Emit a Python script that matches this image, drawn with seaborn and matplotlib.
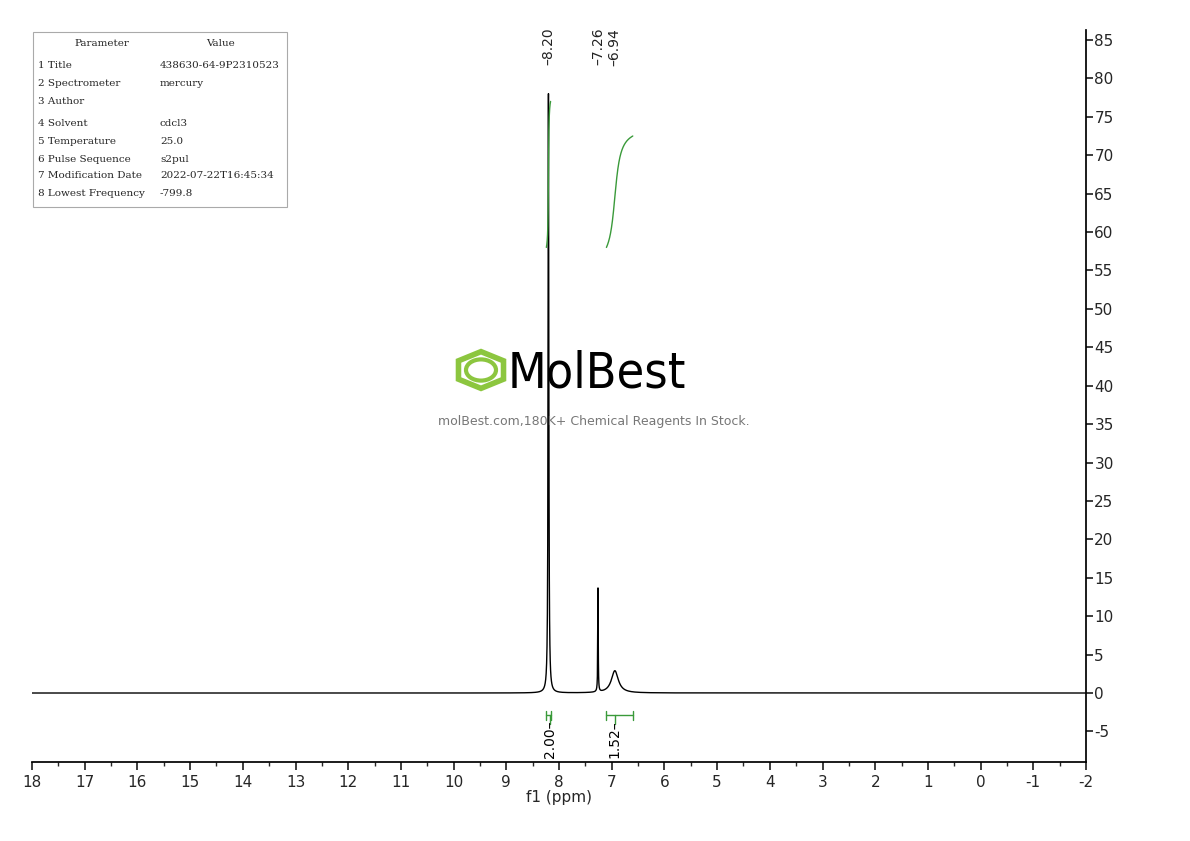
import numpy as np
import matplotlib
matplotlib.use("Agg")
import matplotlib.pyplot as plt
import seaborn as sns
from matplotlib.patches import RegularPolygon, Circle

sns.set_theme(style="white")
plt.rcParams['font.family'] = ['DejaVu Sans']
plt.rcParams['axes.unicode_minus'] = False

# peaks (ppm, height, half-width)
peak_ppm = [8.20, 7.26, 6.94]
peak_height = [78.0, 13.5, 2.9]
peak_hw = [0.008, 0.005, 0.08]
peak_labels = ["8.20", "7.26", "6.94"]
# integrals
int_start = [8.24, 7.10]
int_end = [8.16, 6.60]
int_low = [58.0, 58.0]
int_high = [77.0, 72.5]
int_values = ["2.00", "1.52"]
int_label_ppm = [8.18, 6.94]

param_names = ["Parameter", "1 Title", "2 Spectrometer", "3 Author", "4 Solvent", "5 Temperature",
               "6 Pulse Sequence", "7 Modification Date", "8 Lowest Frequency"]
param_values = ["Value", "438630-64-9P2310523", "mercury", "", "cdcl3", "25.0", "s2pul",
                "2022-07-22T16:45:34", "-799.8"]

x = np.linspace(18, -2, 40001)
y = np.zeros_like(x)
for p, h, w in zip(peak_ppm, peak_height, peak_hw):
    y += h * w**2 / ((x - p)**2 + w**2)

fig = plt.figure(figsize=(11.9, 8.41), dpi=100)
ax = fig.add_axes([32/1190, 1-762/841, (1086-32)/1190, (762-30)/841])
sns.lineplot(x=x, y=y, ax=ax, color="black", linewidth=1.0)

green = "#3a9a3a"
for s, e, lo, hi in zip(int_start, int_end, int_low, int_high):
    m = (x <= s) & (x >= e)
    xs = x[m]; c = np.cumsum(y[m]); c = (c - c[0]) / (c[-1] - c[0])
    ax.plot(xs, lo + (hi - lo) * c, color=green, lw=1)
    ax.plot([s, e], [-2.9, -2.9], color=green, lw=1)
    for xx in (s, e):
        ax.plot([xx, xx], [-3.5, -2.3], color=green, lw=1)
for lp, v in zip(int_label_ppm, int_values):
    ax.plot([lp, lp], [-2.9, -4.0], color=green, lw=1)
    ax.text(lp, -3.6, v + "–", rotation=90, ha="center", va="top", fontsize=10, color="black")

ax.set_xlim(18, -2)
ax.set_ylim(-8.98, 86.3)
ax.set_xticks(np.arange(18, -3, -1))
ax.set_xticklabels([str(int(t)) for t in np.arange(18, -3, -1)], fontsize=11)
ax.set_xticks(np.arange(18, -2.1, -0.5), minor=True)
ax.set_yticks(np.arange(-5, 90, 5))
ax.yaxis.tick_right()
ax.tick_params(axis='y', labelsize=11, direction='out', length=5, left=False, right=True, pad=1)
ax.tick_params(axis='x', which='major', direction='out', length=6, bottom=True)
ax.tick_params(axis='x', which='minor', direction='out', length=3, bottom=True)
for s in ["top", "left"]:
    ax.spines[s].set_visible(False)
ax.spines["right"].set_color("black"); ax.spines["bottom"].set_color("black")
ax.set_xlabel("f1 (ppm)", fontsize=11, labelpad=0)

for p, l in zip(peak_ppm, peak_labels):
    ax.text(p, 1.003, "–" + l, rotation=90, ha="center", va="top", fontsize=10,
            transform=ax.get_xaxis_transform(), color="#222222")

# parameter table
fig.patches.append(plt.Rectangle((33/1190, 1-207/841), 254/1190, 175/841, transform=fig.transFigure,
                                 fill=False, edgecolor="#aaaaaa", lw=0.8))
ys = [43, 65, 83, 101, 123, 141, 159, 176, 194]
for i, (n, v) in enumerate(zip(param_names, param_values)):
    if i == 0:
        fig.text(102/1190, 1-ys[i]/841, n, ha="center", va="center", fontsize=7.5, family="DejaVu Serif")
        fig.text(220/1190, 1-ys[i]/841, v, ha="center", va="center", fontsize=7.5, family="DejaVu Serif")
    else:
        fig.text(38/1190, 1-ys[i]/841, n, ha="left", va="center", fontsize=7.5, family="DejaVu Serif")
        fig.text(160/1190, 1-ys[i]/841, v, ha="left", va="center", fontsize=7.5, family="DejaVu Serif")

# watermark
fig.patches.append(RegularPolygon((481/1190, 1-370/841), 6, radius=26/1190, orientation=0,
                                  transform=fig.transFigure, fill=False, edgecolor="#8cc63f", lw=4))
fig.patches.append(plt.Circle((481/1190, 1-370/841), 15/1190, transform=fig.transFigure,
                              fill=False, edgecolor="#8cc63f", lw=3))
fig.text(508/1190, 1-373/841, "MolBest", ha="left", va="center", fontsize=36, color="black",
         family=["Liberation Sans Narrow", "DejaVu Sans"], stretch="condensed")
fig.text(594/1190, 1-421/841, "molBest.com,180K+ Chemical Reagents In Stock.", ha="center", va="center",
         fontsize=9, color="#777777")

fig.savefig("out.png", dpi=100)
